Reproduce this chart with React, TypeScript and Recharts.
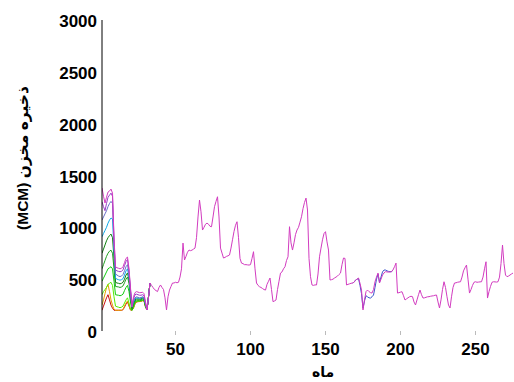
import React from 'react'
import { LineChart, Line, XAxis, YAxis } from 'recharts'

// storage per month (MCM), main trajectory, months 1..275
const mainStorage = [
  1380, 1300, 1234, 1290, 1340, 1350, 1369, 1330, 900, 620,
  610, 605, 600, 605, 620, 660, 700, 713, 600, 415,
  230, 330, 370, 380, 375, 370, 370, 375, 360, 280,
  203, 330, 463, 440, 420, 400, 390, 380, 420, 444,
  420, 400, 320, 203, 330, 395, 430, 463, 463, 470,
  465, 470, 520, 600, 848, 685, 720, 760, 781, 775,
  780, 790, 800, 900, 1100, 1263, 1150, 974, 1000, 1030,
  1041, 1030, 1010, 1006, 1100, 1199, 1250, 1295, 1100, 800,
  752, 704, 710, 720, 725, 733, 800, 880, 960, 1020,
  1054, 900, 700, 655, 650, 640, 640, 638, 636, 640,
  700, 765, 600, 463, 440, 427, 420, 410, 400, 395,
  450, 480, 511, 400, 283, 290, 299, 400, 480, 559,
  570, 600, 620, 680, 716, 1006, 850, 781, 850, 930,
  974, 1000, 1050, 1102, 1180, 1240, 1282, 1167, 700, 524,
  444, 440, 445, 444, 550, 716, 800, 880, 940, 958,
  860, 781, 492, 495, 500, 511, 520, 530, 545, 559,
  640, 704, 700, 444, 450, 455, 460, 463, 470, 490,
  500, 511, 460, 395, 203, 300, 380, 395, 380, 370,
  366, 400, 475, 520, 559, 463, 500, 540, 560, 572,
  570, 568, 570, 572, 590, 620, 655, 366, 370, 375,
  379, 340, 299, 310, 320, 330, 335, 331, 280, 251,
  300, 350, 395, 350, 318, 320, 325, 330, 331, 335,
  338, 340, 345, 347, 280, 222, 300, 400, 475, 420,
  330, 250, 222, 330, 420, 463, 465, 470, 473, 475,
  520, 580, 610, 636, 500, 366, 400, 440, 470, 475,
  470, 472, 474, 475, 520, 600, 668, 318, 380, 430,
  470, 475, 474, 472, 475, 520, 650, 829, 650, 540,
  524, 530, 540, 550, 559,
]

// second run that separates from the main one around months 168..195
const blueStart = 168
const blueStorage = [
  463, 470, 490, 500, 505, 440, 360, 220, 290, 340,
  330, 320, 318, 330, 347, 420, 500, 550, 470, 520,
  570, 588, 588, 580, 575, 572, 572, 590,
]

// runs from other initial storages, months 1..33 (then they join the main one)
const purpleStart = [
  1247, 1200, 1160, 1230, 1290, 1310, 1330, 1300, 880, 590,
  580, 575, 572, 575, 590, 630, 670, 690, 580, 400,
  250, 310, 350, 355, 350, 345, 345, 350, 340, 270,
  203, 330, 463,
]
const slateStart = [
  1070, 1100, 1130, 1160, 1200, 1230, 1250, 1230, 850, 550,
  540, 530, 525, 530, 545, 580, 620, 640, 550, 380,
  240, 290, 320, 330, 325, 320, 322, 330, 320, 260,
  203, 330, 463,
]
const cyanStart = [
  909, 940, 970, 1000, 1040, 1070, 1090, 1080, 780, 510,
  500, 495, 490, 495, 505, 540, 580, 600, 520, 360,
  230, 280, 310, 320, 318, 315, 318, 325, 315, 255,
  203, 330, 463,
]
const darkGreenStart = [
  750, 790, 830, 870, 900, 920, 935, 900, 700, 470,
  463, 460, 455, 460, 470, 500, 540, 560, 490, 340,
  220, 270, 300, 310, 310, 308, 310, 318, 310, 250,
  203, 330, 463,
]
const greenStart = [
  600, 640, 680, 720, 750, 770, 780, 750, 600, 430,
  427, 425, 420, 425, 435, 465, 500, 520, 460, 320,
  210, 260, 290, 300, 300, 300, 302, 310, 305, 245,
  203, 330, 463,
]
const brightGreenStart = [
  480, 510, 540, 570, 600, 610, 620, 600, 480, 350,
  347, 345, 340, 345, 355, 390, 420, 440, 380, 280,
  200, 240, 280, 290, 292, 292, 295, 300, 300, 240,
  203, 330, 463,
]
const limeStart = [
  350, 380, 400, 420, 450, 460, 470, 440, 330, 240,
  234, 230, 225, 230, 240, 270, 300, 320, 270, 210,
  200, 230, 270, 285, 288, 288, 290, 296, 295, 235,
  203, 330, 463,
]
const orangeStart = [
  250, 300, 360, 420, 450, 380, 300, 250, 210, 200,
  200, 200, 200, 200, 210, 240, 270, 290, 250, 205,
  200, 225, 265, 282, 285, 286, 288, 294, 293, 233,
  203, 330, 463,
]
const redStart = [
  200, 240, 280, 320, 350, 300, 250, 220, 200, 200,
  200, 200, 200, 200, 205, 230, 260, 280, 240, 202,
  200, 222, 262, 280, 283, 284, 286, 292, 291, 232,
  203, 330, 463,
]

const yTicks = [0, 500, 1000, 1500, 2000, 2500, 3000]
const xTicks = [50, 100, 150, 200, 250]

const FONT = '"Liberation Sans", Arial, "DejaVu Sans", sans-serif'

const earlyRuns = [
  { key: 'red', color: '#c81010', values: redStart },
  { key: 'orange', color: '#e8a000', values: orangeStart },
  { key: 'lime', color: '#55ee00', values: limeStart },
  { key: 'bright', color: '#10cc10', values: brightGreenStart },
  { key: 'green', color: '#22a022', values: greenStart },
  { key: 'dgreen', color: '#108010', values: darkGreenStart },
  { key: 'cyan', color: '#10a8e8', values: cyanStart },
  { key: 'slate', color: '#6a70c8', values: slateStart },
  { key: 'purple', color: '#9a40c8', values: purpleStart },
]

const rows = mainStorage.map((v, i) => {
  const m = i + 1
  const row: Record<string, number | null> = { m, main: v }
  const bi = m - blueStart
  row.blue = bi >= 0 && bi < blueStorage.length ? blueStorage[bi] : null
  earlyRuns.forEach(r => {
    row[r.key] = i < r.values.length ? r.values[i] : null
  })
  return row
})

function XTick({ x, y, payload }: any) {
  return (
    <text x={x} y={y + 18} textAnchor="middle" fontSize={17} fontWeight="bold" fontFamily={FONT} fill="#000">
      {payload.value}
    </text>
  )
}

function YTick({ x, y, payload }: any) {
  return (
    <text x={x} y={y + 7} textAnchor="end" fontSize={17} fontWeight="bold" fontFamily={FONT} fill="#000">
      {payload.value}
    </text>
  )
}

export default function App() {
  return (
    <div style={{ position: 'absolute', left: 0, top: 0, width: 514, height: 382, background: '#fff' }}>
      <LineChart width={514} height={382} data={rows} margin={{ top: 20, right: 1, bottom: 0, left: 0 }}>
        <XAxis
          dataKey="m"
          type="number"
          domain={[1, 275]}
          ticks={xTicks}
          height={51}
          axisLine={false}
          tickLine={{ stroke: '#bbbbbb' }}
          tickSize={4}
          tickMargin={2}
          tick={<XTick />}
          allowDataOverflow
        />
        <YAxis
          type="number"
          domain={[0, 3000]}
          ticks={yTicks}
          width={102}
          axisLine={{ stroke: '#000' }}
          tickLine={false}
          tickSize={3}
          tickMargin={2}
          tick={<YTick />}
          allowDataOverflow
        />
        {earlyRuns.map(r => (
          <Line
            key={r.key}
            dataKey={r.key}
            stroke={r.color}
            strokeWidth={1}
            dot={false}
            type="linear"
            connectNulls={false}
            isAnimationActive={false}
          />
        ))}
        <Line dataKey="blue" stroke="#3a55cc" strokeWidth={1} dot={false} type="linear" isAnimationActive={false} />
        <Line dataKey="main" stroke="#d23cc0" strokeWidth={1} dot={false} type="linear" isAnimationActive={false} />
      </LineChart>
      <svg width={514} height={382} style={{ position: 'absolute', left: 0, top: 0, pointerEvents: 'none' }}>
        <text
          x={22}
          y={158}
          transform="rotate(-90 22 158)"
          textAnchor="middle"
          dominantBaseline="central"
          fontSize={15.5}
          fontWeight="bold"
          fontFamily={FONT}
          fill="#000"
        >
          (MCM) ذخیره مخزن
        </text>
        <text x={323} y={377} textAnchor="middle" fontSize={14} fontWeight="bold" fontFamily={FONT} fill="#000">
          ماه
        </text>
      </svg>
    </div>
  )
}
